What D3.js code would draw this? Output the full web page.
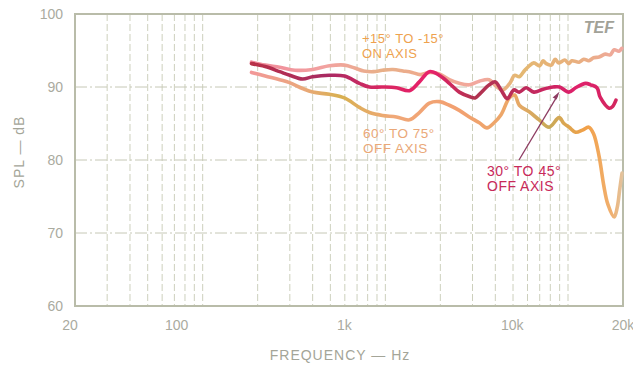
<!DOCTYPE html>
<html>
<head>
<meta charset="utf-8">
<script src="https://cdn.jsdelivr.net/npm/d3@7/dist/d3.min.js"></script>
<style>
  html, body { margin: 0; padding: 0; background: #fff; }
  svg { display: block; font-family: "Liberation Sans", Arial, sans-serif; }
</style>
</head>
<body>
<svg id="chart" width="633" height="369"></svg>
<script>
// Frequency response of the loudspeaker at several listening angles (SPL in dB vs Hz)
const onAxisHz = [185, 220, 264, 320, 400, 494, 597, 680, 760, 860, 964, 1100, 1250, 1400, 1550, 1750, 1976, 2240, 2540, 2880, 3270, 3700, 4000, 4400, 4800, 5100, 5410, 5800, 6130, 6500, 7000, 7300, 7600, 8100, 8500, 8900, 9600, 10100, 10500, 11500, 12200, 13000, 13800, 14800, 16000, 17000, 17900, 19000, 19700];
const onAxisDb = [93.4, 93.0, 92.7, 92.3, 92.4, 92.9, 93.0, 92.6, 92.2, 92.1, 92.3, 92.4, 92.2, 92.0, 91.7, 92.0, 91.8, 91.0, 90.5, 90.3, 90.8, 91.0, 90.2, 89.6, 90.5, 91.6, 91.4, 92.3, 92.9, 93.3, 92.9, 93.6, 93.2, 93.0, 93.8, 93.3, 93.7, 93.2, 93.6, 93.4, 93.8, 93.6, 94.0, 94.1, 94.5, 94.4, 95.1, 94.9, 95.3];

const off30Hz = [185, 220, 264, 300, 352, 400, 494, 597, 721, 819, 964, 1150, 1355, 1535, 1742, 1976, 2240, 2540, 2880, 3100, 3270, 3710, 4000, 4300, 4650, 5050, 5410, 5900, 6500, 7300, 8300, 9000, 10100, 11000, 12500, 13300, 14400, 15000, 16800, 17500, 18300];
const off30Db = [93.2, 92.8, 92.1, 91.6, 91.1, 91.4, 91.6, 91.5, 90.5, 90.0, 90.0, 89.9, 89.5, 90.7, 92.1, 91.6, 90.5, 89.3, 88.7, 88.5, 89.0, 90.3, 90.7, 89.6, 88.4, 89.6, 89.3, 89.9, 89.3, 89.7, 90.0, 90.0, 89.3, 89.9, 90.5, 90.3, 89.9, 88.6, 87.1, 87.3, 88.2];

const off60Hz = [185, 220, 264, 299, 352, 400, 494, 597, 721, 819, 964, 1150, 1355, 1535, 1742, 1976, 2240, 2540, 2880, 3270, 3600, 3900, 4300, 4770, 5100, 5410, 6130, 6950, 7880, 8940, 9500, 10140, 11000, 12000, 13000, 13800, 14800, 15700, 16500, 17900, 18600, 19200, 19750];
const off60Db = [92.0, 91.5, 91.0, 90.6, 89.8, 89.3, 89.0, 88.5, 87.2, 86.5, 86.1, 85.9, 85.5, 86.5, 87.8, 88.0, 87.5, 86.8, 85.9, 85.1, 84.4, 85.0, 86.2, 88.5, 88.9, 87.5, 86.6, 85.5, 84.5, 85.8, 85.0, 84.5, 83.8, 84.1, 84.5, 83.6, 80.5, 76.5, 74.0, 72.2, 73.5, 76.0, 78.2];

const yTicks = [60, 70, 80, 90, 100];
const yGrid = [70, 80, 90];
const xTickLabels = ["20", "100", "1k", "10k", "20k"];
// where each frequency label is printed along the axis
const xTickLabelAt = [18.8, 72, 597, 4950, 20000];

const svg = d3.select("#chart");
const plotL = 75, plotR = 623, plotT = 14, plotB = 306;

const x = d3.scaleLog().domain([20, 20000]).range([plotL, plotR]);
const y = d3.scaleLinear().domain([60, 100]).range([plotB, plotT]);

const defs = svg.append("defs");
defs.append("filter").attr("id", "soft")
  .append("feGaussianBlur").attr("stdDeviation", 0.5);

// vertical grid: every 1..9 multiple per decade between the borders
const gridHz = [];
[10, 100, 1000, 10000].forEach(d => {
  for (let m = 1; m <= 9; m++) {
    const f = d * m;
    if (f > 20 && f < 20000) gridHz.push(f);
  }
});

const grid = svg.append("g");
grid.selectAll("line.v").data(gridHz).join("line")
  .attr("class", "v")
  .attr("x1", d => x(d)).attr("x2", d => x(d))
  .attr("y1", plotT).attr("y2", plotB)
  .attr("stroke", "#cdd0bd").attr("stroke-width", 1)
  .attr("stroke-dasharray", "7,3");

grid.selectAll("line.h").data(yGrid).join("line")
  .attr("class", "h")
  .attr("x1", plotL).attr("x2", plotR)
  .attr("y1", d => y(d)).attr("y2", d => y(d))
  .attr("stroke", "#c6c8b6").attr("stroke-width", 1)
  .attr("stroke-dasharray", "12,3,2,3");

// plot frame
svg.append("rect")
  .attr("x", plotL).attr("y", plotT)
  .attr("width", plotR - plotL).attr("height", plotB - plotT)
  .attr("fill", "none").attr("stroke", "#b9bca9").attr("stroke-width", 2);

// y tick labels
svg.append("g").selectAll("text").data(yTicks).join("text")
  .attr("x", 63).attr("y", d => y(d) + 5)
  .attr("text-anchor", "end")
  .attr("font-size", 14).attr("fill", "#aaab9f")
  .text(d => d);

// x tick labels
svg.append("g").selectAll("text").data(xTickLabels).join("text")
  .attr("x", (d, i) => x(xTickLabelAt[i]))
  .attr("y", 330)
  .attr("text-anchor", "middle")
  .attr("font-size", 14).attr("fill", "#aaab9f")
  .text(d => d);

// axis titles
svg.append("text")
  .attr("transform", "translate(24,152) rotate(-90)")
  .attr("text-anchor", "middle")
  .attr("font-size", 14).attr("letter-spacing", 1).attr("fill", "#a4a598")
  .text("SPL — dB");

svg.append("text")
  .attr("x", 340).attr("y", 360)
  .attr("text-anchor", "middle")
  .attr("font-size", 14).attr("letter-spacing", 1).attr("fill", "#a4a598")
  .text("FREQUENCY — Hz");

svg.append("text")
  .attr("x", 614).attr("y", 33)
  .attr("text-anchor", "end")
  .attr("font-size", 16).attr("font-style", "italic").attr("font-weight", "bold")
  .attr("fill", "#a2a298")
  .text("TEF");

// colour gradients along each response trace
function gradient(id, stops) {
  const g = defs.append("linearGradient").attr("id", id)
    .attr("gradientUnits", "userSpaceOnUse")
    .attr("x1", x(185)).attr("x2", x(20000)).attr("y1", 0).attr("y2", 0);
  stops.forEach(([o, c]) => g.append("stop").attr("offset", o).attr("stop-color", c));
}
gradient("gOn", [[0, "#f0899a"], [0.2, "#f2a2a0"], [0.35, "#e8b088"], [0.5, "#f0a890"], [0.62, "#f2a8a0"], [0.72, "#e4b870"], [0.86, "#e8b07c"], [1, "#f0a8a0"]]);
gradient("g30", [[0, "#b83048"], [0.2, "#a82c62"], [0.35, "#d82862"], [0.48, "#e8206a"], [0.6, "#b03450"], [0.75, "#c02a5c"], [0.88, "#e0206c"], [1, "#d0285c"]]);
gradient("g60", [[0, "#f29898"], [0.14, "#eaa87a"], [0.24, "#d8b050"], [0.38, "#f0a878"], [0.55, "#f2a070"], [0.7, "#eca868"], [0.8, "#c8aa58"], [0.9, "#f2a048"], [0.97, "#f0b070"], [1, "#e2c4a0"]]);

const line = d3.line()
  .x(d => x(d[0])).y(d => y(d[1]))
  .curve(d3.curveCatmullRom.alpha(0.5));

const series = [
  { hz: off60Hz, db: off60Db, stroke: "url(#g60)" },
  { hz: onAxisHz, db: onAxisDb, stroke: "url(#gOn)" },
  { hz: off30Hz, db: off30Db, stroke: "url(#g30)" }
];

svg.append("g").attr("filter", "url(#soft)")
  .selectAll("path").data(series).join("path")
  .attr("d", s => line(s.hz.map((h, i) => [h, s.db[i]])))
  .attr("fill", "none")
  .attr("stroke", s => s.stroke)
  .attr("stroke-width", 3.6)
  .attr("stroke-linecap", "round")
  .attr("stroke-linejoin", "round");

// curve captions
const captions = [
  { lines: ["+15° TO -15°", "ON AXIS"], x: 362, y: 43, color: "#eea24e", size: 13 },
  { lines: ["60° TO 75°", "OFF AXIS"], x: 363, y: 138, color: "#eaa878", size: 13.5 },
  { lines: ["30° TO 45°", "OFF AXIS"], x: 487, y: 176, color: "#c82a5a", size: 14 }
];
captions.forEach(c => {
  const t = svg.append("text")
    .attr("font-size", c.size).attr("fill", c.color).attr("letter-spacing", 0.5);
  c.lines.forEach((s, i) => t.append("tspan")
    .attr("x", c.x).attr("y", c.y + i * 15).text(s));
});

// pointer from the 30°–45° caption to its trace
const arrowHz = 9000;
const ax = x(arrowHz), ay = y(89.4);
svg.append("line")
  .attr("x1", 519).attr("y1", 160)
  .attr("x2", ax - 2).attr("y2", ay + 4)
  .attr("stroke", "#8e3c62").attr("stroke-width", 1.3);
svg.append("path")
  .attr("d", `M${ax},${ay} l-7,6 l4,2 z`)
  .attr("fill", "#8e3c62");
</script>
</body>
</html>
